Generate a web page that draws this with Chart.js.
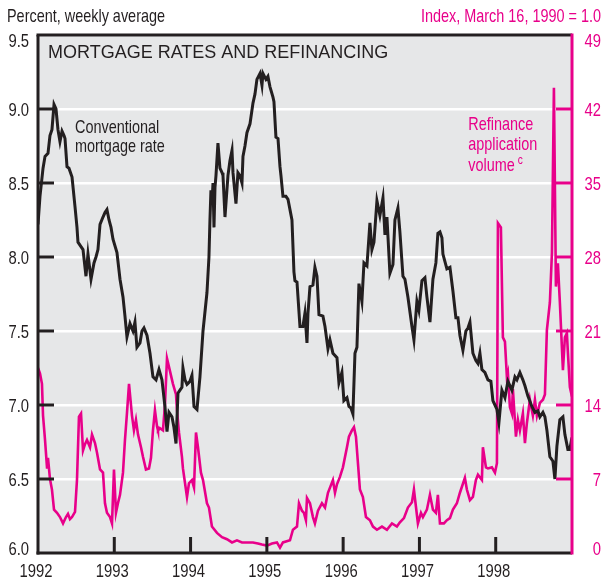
<!DOCTYPE html>
<html>
<head>
<meta charset="utf-8">
<script src="https://cdn.jsdelivr.net/npm/chart.js@4/dist/chart.umd.min.js"></script>
<style>
html,body{margin:0;padding:0;background:#fff}
canvas{display:block}
</style>
</head>
<body>
<canvas id="c" width="604" height="579"></canvas>
<script>
// ---- Data (decimal years) ----
const rateDates = [
1992.000,1992.026,1992.066,1992.092,1992.131,1992.157,1992.183,1992.210,1992.236,1992.262,1992.288,1992.315,1992.341,1992.354,1992.380,1992.406,1992.446,1992.485,1992.511,1992.524,1992.550,1992.590,1992.629,1992.655,1992.695,1992.734,1992.760,1992.786,1992.813,1992.852,1992.878,1992.904,1992.931,1992.957,1992.983,
1993.035,1993.075,1993.114,1993.140,1993.166,1993.206,1993.245,1993.271,1993.297,1993.337,1993.363,1993.389,1993.429,1993.468,1993.507,1993.547,1993.586,1993.625,1993.664,1993.691,1993.717,1993.756,1993.782,1993.809,1993.835,1993.861,1993.887,1993.900,1993.927,1993.953,1993.992,
1994.018,1994.045,1994.084,1994.123,1994.163,1994.215,1994.241,1994.254,1994.267,1994.280,1994.294,1994.307,1994.320,1994.333,1994.359,1994.385,1994.412,1994.425,1994.451,1994.490,1994.516,1994.543,1994.556,1994.595,1994.621,1994.647,1994.674,1994.687,1994.713,1994.739,1994.779,1994.818,1994.844,1994.870,1994.910,1994.936,1994.949,1994.988,
1995.014,1995.041,1995.080,1995.093,1995.119,1995.146,1995.172,1995.185,1995.211,1995.250,1995.277,1995.303,1995.329,1995.355,1995.368,1995.395,1995.434,1995.473,1995.499,1995.526,1995.539,1995.565,1995.604,1995.630,1995.657,1995.683,1995.735,1995.762,1995.801,1995.827,1995.866,1995.919,1995.945,1995.984,
1996.010,1996.050,1996.076,1996.102,1996.128,1996.155,1996.181,1996.207,1996.246,1996.273,1996.312,1996.351,1996.377,1996.404,1996.443,1996.482,1996.522,1996.548,1996.574,1996.613,1996.653,1996.679,1996.718,1996.744,1996.784,1996.810,1996.849,1996.902,1996.928,1996.967,1996.993,
1997.033,1997.072,1997.098,1997.138,1997.177,1997.216,1997.242,1997.269,1997.295,1997.308,1997.360,1997.400,1997.439,1997.478,1997.505,1997.531,1997.570,1997.609,1997.636,1997.662,1997.701,1997.740,1997.767,1997.793,1997.819,1997.858,1997.898,1997.937,1997.963,1997.990,
1998.016,1998.042,1998.081,1998.121,1998.160,1998.212,1998.252,1998.278,1998.317,1998.356,1998.383,1998.422,1998.474,1998.514,1998.553,1998.579,1998.619,1998.645,1998.671,1998.710,1998.750,1998.776,1998.802,1998.841,1998.881,1998.907,1998.946,1998.972,1998.999
];
const rateValues = [
8.22,8.41,8.60,8.68,8.70,8.82,8.86,9.03,9.00,8.86,8.78,8.85,8.82,8.80,8.61,8.60,8.54,8.34,8.20,8.10,8.08,8.05,7.87,8.02,7.85,7.96,8.00,8.05,8.22,8.27,8.30,8.32,8.25,8.20,8.12,
8.03,7.85,7.73,7.60,7.46,7.55,7.50,7.56,7.39,7.42,7.50,7.52,7.47,7.35,7.19,7.17,7.24,7.17,6.99,6.82,6.95,6.92,6.85,6.74,7.08,7.10,7.12,7.25,7.17,7.14,7.16,
7.20,6.99,6.97,7.19,7.50,7.76,8.00,8.25,8.45,8.35,8.50,8.20,8.47,8.55,8.77,8.60,8.57,8.55,8.27,8.55,8.65,8.72,8.57,8.36,8.57,8.55,8.50,8.68,8.75,8.84,8.90,9.04,9.10,9.20,9.24,9.16,9.24,9.20,
9.22,9.15,9.08,9.05,8.81,8.80,8.61,8.55,8.41,8.41,8.39,8.32,8.25,7.90,7.84,7.83,7.53,7.53,7.62,7.42,7.62,7.80,7.81,7.93,7.87,7.61,7.60,7.53,7.38,7.44,7.35,7.32,7.15,7.22,
7.03,7.05,6.99,6.98,6.94,7.35,7.39,7.82,7.70,7.96,7.94,8.23,8.05,8.10,8.38,8.28,8.40,8.15,8.27,7.89,7.95,8.25,8.33,8.17,7.87,7.85,7.73,7.53,7.44,7.70,7.64,
7.84,7.86,7.73,7.56,7.85,7.96,8.16,8.17,8.13,8.02,7.92,7.93,7.77,7.59,7.59,7.47,7.37,7.50,7.52,7.56,7.35,7.30,7.28,7.35,7.24,7.22,7.17,7.16,7.03,7.00,
6.97,6.88,7.10,7.05,7.16,7.10,7.19,7.17,7.22,7.17,7.13,7.06,6.99,6.95,6.96,6.92,6.95,6.92,6.83,6.65,6.62,6.50,6.72,6.90,6.92,6.80,6.70,6.70,6.78
];
const refiDates = [
1992.000,1992.026,1992.052,1992.066,1992.092,1992.118,1992.131,1992.157,1992.183,1992.210,1992.249,1992.288,1992.328,1992.367,1992.393,1992.419,1992.446,1992.485,1992.511,1992.537,1992.564,1992.590,1992.616,1992.642,1992.682,1992.708,1992.747,1992.773,1992.813,1992.852,1992.878,1992.904,1992.944,1992.970,1992.996,
1993.022,1993.048,1993.075,1993.114,1993.140,1993.166,1993.193,1993.219,1993.232,1993.258,1993.284,1993.311,1993.350,1993.376,1993.415,1993.455,1993.481,1993.507,1993.533,1993.560,1993.573,1993.599,1993.638,1993.664,1993.691,1993.730,1993.769,1993.809,1993.822,1993.848,1993.887,1993.900,1993.953,1993.979,
1994.018,1994.045,1994.071,1994.097,1994.136,1994.163,1994.215,1994.241,1994.280,1994.346,1994.412,1994.477,1994.543,1994.608,1994.674,1994.739,1994.818,1994.883,1994.936,
1995.001,1995.067,1995.132,1995.172,1995.211,1995.303,1995.342,1995.395,1995.421,1995.460,1995.486,1995.512,1995.526,1995.565,1995.604,1995.630,1995.670,1995.722,1995.762,1995.801,1995.866,1995.893,1995.919,1995.958,1995.997,
1996.050,1996.076,1996.115,1996.142,1996.168,1996.194,1996.220,1996.259,1996.299,1996.351,1996.391,1996.443,1996.509,1996.574,1996.640,1996.705,1996.744,1996.797,1996.849,1996.902,1996.928,1996.954,1996.980,
1997.020,1997.046,1997.098,1997.138,1997.177,1997.216,1997.242,1997.269,1997.321,1997.360,1997.400,1997.439,1997.491,1997.531,1997.596,1997.622,1997.662,1997.701,1997.740,1997.767,1997.819,1997.832,1997.872,1997.898,1997.950,1997.990,
1998.016,1998.029,1998.068,1998.094,1998.121,1998.147,1998.160,1998.186,1998.212,1998.225,1998.265,1998.291,1998.317,1998.356,1998.383,1998.409,1998.448,1998.487,1998.514,1998.540,1998.579,1998.619,1998.645,1998.671,1998.710,1998.737,1998.763,1998.789,1998.815,1998.841,1998.881,1998.907,1998.933,1998.946,1998.972,1998.999
];
const refiValues = [
17.5,17.0,16.0,13.0,10.7,8.1,9.0,7.0,6.0,4.1,3.8,3.4,2.8,3.4,3.7,3.2,3.4,3.9,6.9,12.9,13.2,9.7,10.3,10.7,10.0,11.2,10.4,9.5,7.9,7.6,4.7,3.8,3.4,2.8,7.9,
3.8,4.7,5.5,7.6,10.7,13.2,16.0,14.0,13.0,11.6,12.6,11.2,10.0,9.1,7.9,8.0,9.0,11.6,13.5,12.0,11.6,11.8,11.6,14.0,18.4,17.2,16.0,15.0,13.5,11.4,9.1,8.0,5.3,6.6,
6.9,6.2,11.4,10.0,7.6,6.9,4.7,4.3,2.5,1.9,1.5,1.3,1.0,1.2,1.0,1.0,1.0,0.9,0.8,
0.7,0.9,1.0,0.5,1.0,1.2,2.2,2.5,4.7,4.0,3.8,3.1,5.2,4.7,3.4,2.8,4.0,4.7,4.3,5.7,6.9,5.7,6.5,7.2,8.1,
10.0,11.0,11.6,11.9,11.0,8.5,6.0,5.3,3.4,3.1,2.5,2.2,2.5,2.2,2.8,2.5,2.9,3.3,4.3,4.8,6.0,4.4,2.8,
3.8,3.4,4.1,5.5,4.1,3.8,5.5,2.8,2.8,3.1,3.3,4.1,4.7,5.7,7.1,6.0,5.0,5.3,6.9,7.4,6.9,10.0,8.1,8.0,8.1,7.6,
8.5,31.2,30.8,20.4,20.0,16.6,17.0,13.8,13.2,15.5,11.0,12.6,11.6,13.2,10.4,12.3,14.5,13.0,14.5,13.0,14.2,14.5,15.0,21.1,23.7,28.4,44.0,25.2,27.4,23.7,17.3,20.4,20.8,19.0,15.7,14.8
];
const yearTicks = [1992, 1993, 1994, 1995, 1996, 1997, 1998];
const rateTicks = [6.0, 6.5, 7.0, 7.5, 8.0, 8.5, 9.0, 9.5];
const refiTicks = [0, 7, 14, 21, 28, 35, 42, 49];

// ---- Styles ----
const DARK = '#231f20';
const MAG = '#e8008a';
const PLOT_BG = '#e6e7e8';
const SANS = '"Liberation Sans", Arial, Helvetica, sans-serif';
const SX = 0.78; // horizontal compression to imitate a condensed face

const rateData = rateDates.map((d, i) => ({ x: d, y: rateValues[i] }));
const refiData = refiDates.map((d, i) => ({ x: d, y: refiValues[i] }));

function seg(ctx, x1, y1, x2, y2) {
  ctx.beginPath(); ctx.moveTo(x1, y1); ctx.lineTo(x2, y2); ctx.stroke();
}
function ntext(ctx, str, x, y, align, size, color) {
  ctx.save();
  ctx.font = size + 'px ' + SANS;
  ctx.fillStyle = color;
  ctx.textAlign = align;
  ctx.textBaseline = 'alphabetic';
  ctx.translate(x, y);
  ctx.scale(SX, 1);
  ctx.fillText(str, 0, 0);
  const w = ctx.measureText(str).width * SX;
  ctx.restore();
  return w;
}

const framePlugin = {
  id: 'frame',
  beforeDraw(chart) {
    const { ctx, chartArea: a } = chart;
    ctx.save();
    ctx.fillStyle = PLOT_BG;
    ctx.fillRect(a.left, a.top, a.right - a.left, a.bottom - a.top);
    ctx.restore();
  },
  afterDatasetsDraw(chart) {
    const { ctx, chartArea: a, scales } = chart;
    ctx.save();
    ctx.lineWidth = 3;
    ctx.lineCap = 'butt';
    const TL = 16;
    ctx.strokeStyle = DARK;
    rateTicks.forEach(v => {
      if (v > 6 && v < 9.5) { const y = scales.y.getPixelForValue(v); seg(ctx, a.left, y, a.left + TL, y); }
    });
    yearTicks.forEach(v => {
      if (v > 1992) { const x = scales.x.getPixelForValue(v); seg(ctx, x, a.bottom, x, a.bottom - TL); }
    });
    ctx.strokeStyle = MAG;
    refiTicks.forEach(v => {
      if (v > 0 && v < 49) { const y = scales.y2.getPixelForValue(v); seg(ctx, a.right - TL, y, a.right, y); }
    });
    ctx.strokeStyle = DARK;
    seg(ctx, a.left - 1.5, a.top, a.right, a.top);
    seg(ctx, a.left, a.top, a.left, a.bottom + 1.5);
    seg(ctx, a.left - 1.5, a.bottom, a.right, a.bottom);
    ctx.strokeStyle = MAG;
    seg(ctx, a.right, a.top - 1.5, a.right, a.bottom + 1.5);
    ctx.restore();
  },
  afterDraw(chart) {
    const { ctx, chartArea: a, scales } = chart;
    const sx = scales.x, sy = scales.y, sy2 = scales.y2;
    const TS = 19;
    // axis tick labels (positions from the chart's scales)
    rateTicks.forEach((v, i) => {
      let y = sy.getPixelForValue(v) + 6.8;
      if (i === 0) y -= 5;
      if (i === rateTicks.length - 1) y += 5;
      ntext(ctx, v.toFixed(1), a.left - 9, y, 'right', TS, DARK);
    });
    refiTicks.forEach((v, i) => {
      let y = sy2.getPixelForValue(v) + 6.8;
      if (i === 0) y -= 5;
      if (i === refiTicks.length - 1) y += 5;
      ntext(ctx, String(v), chart.width - 3, y, 'right', TS, MAG);
    });
    yearTicks.forEach(v => {
      ntext(ctx, String(v), sx.getPixelForValue(v) - 2, a.bottom + 23.5, 'center', TS, DARK);
    });
    // header labels
    ntext(ctx, 'Percent, weekly average', 7, 22, 'left', 18.5, DARK);
    ntext(ctx, 'Index, March 16, 1990 = 1.0', chart.width - 3, 22, 'right', 18.5, MAG);
    // title inside plot
    ctx.save();
    ctx.font = '18px ' + SANS;
    ctx.fillStyle = DARK;
    ctx.textAlign = 'left';
    ctx.textBaseline = 'alphabetic';
    ctx.fillText('MORTGAGE RATES AND REFINANCING', a.left + 10, a.top + 23);
    ctx.restore();
    // series annotations
    const cx = sx.getPixelForValue(1992.485);
    ntext(ctx, 'Conventional', cx, sy.getPixelForValue(8.84), 'left', 18.5, DARK);
    ntext(ctx, 'mortgage rate', cx, sy.getPixelForValue(8.71), 'left', 18.5, DARK);
    const rx = sx.getPixelForValue(1997.64);
    ntext(ctx, 'Refinance', rx, sy.getPixelForValue(8.86), 'left', 18.5, MAG);
    ntext(ctx, 'application', rx, sy.getPixelForValue(8.72), 'left', 18.5, MAG);
    const vy = sy.getPixelForValue(8.58);
    const vw = ntext(ctx, 'volume', rx, vy, 'left', 18.5, MAG);
    ntext(ctx, 'c', rx + vw + 3, vy - 7, 'left', 13, MAG);
  }
};

new Chart(document.getElementById('c'), {
  type: 'line',
  data: {
    datasets: [
      { label: 'Conventional mortgage rate', data: rateData, yAxisID: 'y', borderColor: DARK, borderWidth: 3, pointRadius: 0, tension: 0, order: 0 },
      { label: 'Refinance application volume', data: refiData, yAxisID: 'y2', borderColor: MAG, borderWidth: 2.6, pointRadius: 0, tension: 0, order: 1 }
    ]
  },
  options: {
    responsive: false,
    devicePixelRatio: 1,
    animation: false,
    layout: { padding: { top: 35, right: 3, left: 0, bottom: 0 } },
    plugins: { legend: { display: false }, tooltip: { enabled: false }, title: { display: false } },
    scales: {
      x: {
        type: 'linear', min: 1992, max: 1999,
        afterBuildTicks: s => { s.ticks = yearTicks.concat([1999]).map(v => ({ value: v })); },
        ticks: { display: false },
        grid: { display: false, drawTicks: false },
        border: { display: false },
        afterFit: s => { s.height = 26; }
      },
      y: {
        position: 'left', min: 6, max: 9.5,
        afterBuildTicks: s => { s.ticks = rateTicks.map(v => ({ value: v })); },
        ticks: { display: false },
        grid: { color: '#ffffff', lineWidth: 2.5, drawTicks: false },
        border: { display: false },
        afterFit: s => { s.width = 38; }
      },
      y2: {
        position: 'right', min: 0, max: 49,
        afterBuildTicks: s => { s.ticks = refiTicks.map(v => ({ value: v })); },
        ticks: { display: false },
        grid: { display: false, drawTicks: false },
        border: { display: false },
        afterFit: s => { s.width = 29; }
      }
    }
  },
  plugins: [framePlugin]
});
</script>
</body>
</html>
